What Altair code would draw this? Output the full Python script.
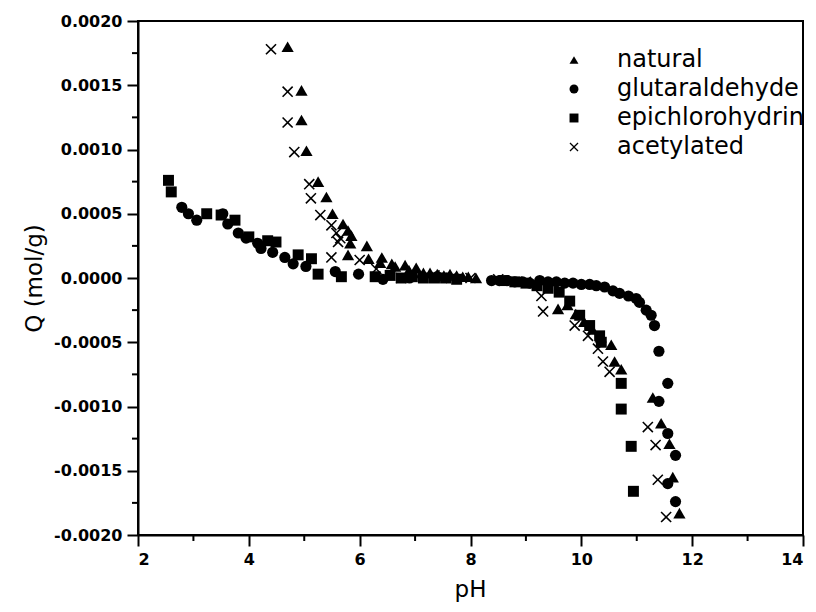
import altair as alt
import pandas as pd

series_names = ["natural", "glutaraldehyde", "epichlorohydrin", "acetylated"]
x_shape = "M-1,-0.8L-0.8,-1L0,-0.2L0.8,-1L1,-0.8L0.2,0L1,0.8L0.8,1L0,0.2L-0.8,1L-1,0.8L-0.2,0Z"
series_shapes = ["triangle-up", "circle", "square", x_shape]
series_sizes = [150, 125, 120, 125]

ph_nat = [4.70, 4.95, 4.95, 5.04, 5.25, 5.40, 5.51, 5.70, 5.79, 5.85, 5.83, 5.79,
          6.13, 6.16, 6.37, 6.40, 6.58, 6.64, 6.82, 6.89, 7.02, 7.15, 7.27, 7.40,
          7.52, 7.63, 7.75, 7.86, 7.96, 8.10, 9.58, 9.75, 9.90, 10.05, 10.20, 10.35,
          10.54, 10.60, 10.72, 11.29, 11.44, 11.59, 11.65, 11.77]
q_nat = [0.00180, 0.00146, 0.00123, 0.00099, 0.00075, 0.00063, 0.00050, 0.00042, 0.00037, 0.00033, 0.00027, 0.00018,
         0.00025, 0.00015, 0.00012, 0.00016, 0.00011, 0.00009, 0.00010, 0.00006, 0.00008, 0.00004, 0.00004, 0.00003,
         0.00002, 0.00003, 0.00002, 0.00001, 0.00001, 0.00000, -0.00024, -0.00021, -0.00028, -0.00034, -0.00040, -0.00046,
         -0.00052, -0.00065, -0.00071, -0.00093, -0.00113, -0.00129, -0.00155, -0.00183]

ph_glu = [2.79, 2.91, 3.06, 3.53, 3.62, 3.81, 3.95, 4.16, 4.22, 4.43, 4.65, 4.80,
          5.03, 5.56, 5.98, 6.42, 6.90, 7.40, 8.38, 8.52, 8.66, 8.80, 8.94, 9.07,
          9.25, 9.40, 9.55, 9.70, 9.85, 10.00, 10.15, 10.27, 10.42, 10.57, 10.69, 10.85,
          10.99, 11.05, 11.17, 11.26, 11.32, 11.40, 11.56, 11.40, 11.56, 11.70, 11.56, 11.70]
q_glu = [0.00055, 0.00050, 0.00045, 0.00050, 0.00042, 0.00035, 0.00031, 0.00027, 0.00023, 0.00020, 0.00016, 0.00011,
         0.00009, 0.00005, 0.00003, -0.00001, 0.00000, 0.00001, -0.00002, -0.00002, -0.00002, -0.00003, -0.00003, -0.00004,
         -0.00002, -0.00003, -0.00003, -0.00004, -0.00004, -0.00005, -0.00005, -0.00006, -0.00007, -0.00010, -0.00012, -0.00014,
         -0.00016, -0.00019, -0.00025, -0.00029, -0.00037, -0.00057, -0.00082, -0.00096, -0.00121, -0.00138, -0.00160, -0.00174]

ph_epi = [2.55, 2.60, 3.24, 3.50, 3.75, 4.00, 4.34, 4.49, 4.89, 5.13, 5.25, 5.67,
          6.28, 6.55, 6.75, 6.95, 7.15, 7.35, 7.55, 7.75, 8.60, 8.80, 9.00, 9.20,
          9.40, 9.60, 9.79, 9.97, 10.15, 10.33, 10.36, 10.72, 10.72, 10.90, 10.94]
q_epi = [0.00076, 0.00067, 0.00050, 0.00049, 0.00045, 0.00032, 0.00029, 0.00028, 0.00018, 0.00015, 0.00003, 0.00001,
         0.00001, 0.00002, 0.00000, 0.00001, 0.00000, 0.00000, 0.00000, -0.00001, -0.00002, -0.00003, -0.00004, -0.00006,
         -0.00008, -0.00011, -0.00018, -0.00029, -0.00037, -0.00045, -0.00050, -0.00082, -0.00102, -0.00131, -0.00166]

ph_ace = [4.40, 4.70, 4.70, 4.82, 5.09, 5.12, 5.29, 5.49, 5.58, 5.61, 5.65, 5.49,
          6.00, 6.30, 6.75, 7.05, 7.35, 7.65, 8.00, 8.50, 9.00, 9.28, 9.31, 9.88,
          10.12, 10.30, 10.39, 10.51, 11.20, 11.34, 11.38, 11.53]
q_ace = [0.00178, 0.00145, 0.00121, 0.00098, 0.00073, 0.00062, 0.00049, 0.00041, 0.00035, 0.00028, 0.00031, 0.00016,
         0.00014, 0.00007, 0.00000, 0.00001, 0.00002, 0.00000, 0.00000, -0.00001, -0.00003, -0.00014, -0.00026, -0.00037,
         -0.00045, -0.00055, -0.00065, -0.00073, -0.00116, -0.00130, -0.00157, -0.00186]

x_major = [2, 4, 6, 8, 10, 12, 14]
x_minor = [3, 5, 7, 9, 11, 13]
y_major = [-0.0020, -0.0015, -0.0010, -0.0005, 0.0, 0.0005, 0.0010, 0.0015, 0.0020]
y_minor = [-0.00175, -0.00125, -0.00075, -0.00025, 0.00025, 0.00075, 0.00125, 0.00175]

rows = []
for name, xs, ys in [("natural", ph_nat, q_nat), ("glutaraldehyde", ph_glu, q_glu),
                     ("epichlorohydrin", ph_epi, q_epi), ("acetylated", ph_ace, q_ace)]:
    for a, b in zip(xs, ys):
        rows.append({"pH": a, "Q": b, "series": name})
df = pd.DataFrame(rows)

W, H = 665, 514
FONT = "DejaVu Sans"

xscale = alt.Scale(domain=[2, 14], nice=False, zero=False)
yscale = alt.Scale(domain=[-0.002, 0.002], nice=False, zero=False)
shape_scale = alt.Scale(domain=series_names, range=series_shapes)

xaxis = alt.Axis(values=x_major, title="pH", format="d", titleX=332, titleY=54,
                 titleBaseline="middle", titleAlign="center")
yaxis = alt.Axis(values=y_major, title="Q (mol/g)",
                 labelExpr="replace(format(datum.value, '.4f'), '\u2212', '-')",
                 titleX=-104, titleY=257, titleAlign="center", titleBaseline="middle")
legend = alt.Legend(title=None, orient="none", legendX=424, legendY=27,
                    labelFontSize=24, labelFont=FONT, labelColor="black", labelLimit=400,
                    symbolSize=80, symbolFillColor="black", symbolStrokeColor="black",
                    symbolStrokeWidth=0.5, rowPadding=5, labelOffset=31)

layers = []
for name, sz in zip(series_names, series_sizes):
    layers.append(
        alt.Chart(df).transform_filter(alt.datum.series == name)
        .mark_point(filled=True, opacity=1, color="black", size=sz)
        .encode(
            x=alt.X("pH:Q", scale=xscale, axis=xaxis),
            y=alt.Y("Q:Q", scale=yscale, axis=yaxis),
            shape=alt.Shape("series:N", scale=shape_scale, sort=series_names, legend=legend),
        )
    )

xminor = alt.Chart(pd.DataFrame({"pH": x_minor})).mark_rule(color="black", strokeWidth=2).encode(
    x=alt.X("pH:Q", scale=xscale, axis=xaxis),
    y=alt.value(H), y2=alt.value(H + 6),
)
yminor = alt.Chart(pd.DataFrame({"Q": y_minor})).mark_rule(color="black", strokeWidth=2).encode(
    y=alt.Y("Q:Q", scale=yscale, axis=yaxis),
    x=alt.value(0), x2=alt.value(-6),
)

chart = alt.layer(*layers, xminor, yminor).properties(
    width=W, height=H,
    background="white",
    autosize=alt.AutoSizeParams(type="none"),
    padding={"left": 138, "top": 21, "right": 13, "bottom": 77},
).configure_view(
    stroke="black", strokeWidth=2
).configure_axis(
    grid=False, domainColor="black", domainWidth=2, tickColor="black", tickWidth=2,
    tickSize=11, labelFont=FONT, labelFontWeight="bold", labelFontSize=16,
    labelColor="black", labelPadding=5, titleFont=FONT, titleFontWeight="normal",
    titleFontSize=23, titleColor="black"
)

chart.save("out.html", embed_options={"renderer": "svg", "actions": False})
